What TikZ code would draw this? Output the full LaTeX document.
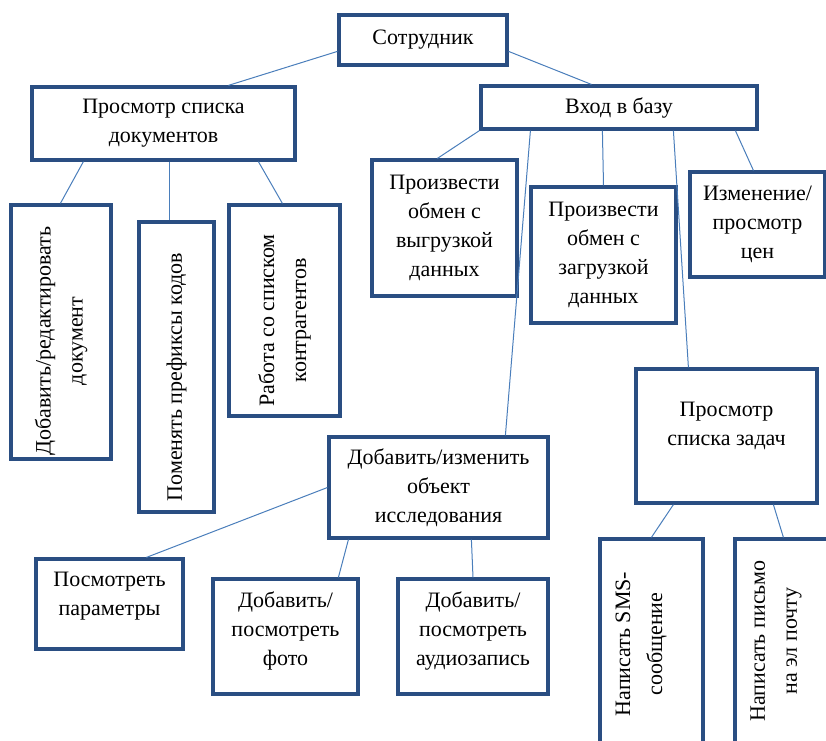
\documentclass[tikz,border=0pt]{standalone}
\usepackage{fontspec}
\setmainfont{Liberation Serif}
\definecolor{boxblue}{HTML}{2A4E82}
\definecolor{linkblue}{HTML}{4A7EBB}
\tikzset{
  x=1pt,y=-1pt,
  box/.style={draw=boxblue, line width=3.2pt, fill=white, inner sep=0pt},
  txt/.style={align=center, inner sep=0pt, font=\fontsize{22}{29}\selectfont},
  vtxt/.style={align=center, inner sep=0pt, rotate=90, font=\fontsize{22}{32}\selectfont},
  link/.style={draw=linkblue, line width=1pt}
}
\begin{document}
\begin{tikzpicture}
\useasboundingbox (0,0) rectangle (826,740);
\clip (0,0) rectangle (826,740);
% boxes
\node[box, minimum width=168pt, minimum height=50pt] (sotr) at (423,40) {};
\node[box, minimum width=263pt, minimum height=73pt] (pd) at (163.5,123.5) {};
\node[box, minimum width=276pt, minimum height=43pt] (vh) at (619,107.5) {};
\node[box, minimum width=100pt, minimum height=254pt] (d1) at (61,332) {};
\node[box, minimum width=75pt, minimum height=290pt] (d2) at (176.5,367) {};
\node[box, minimum width=111pt, minimum height=211pt] (d3) at (284.5,310.5) {};
\node[box, minimum width=145pt, minimum height=136pt] (vg) at (444.5,228) {};
\node[box, minimum width=145pt, minimum height=136pt] (zg) at (603.5,255) {};
\node[box, minimum width=135pt, minimum height=105pt] (iz) at (757.5,224.5) {};
\node[box, minimum width=181pt, minimum height=134pt] (pz) at (726.5,436) {};
\node[box, minimum width=219pt, minimum height=101pt] (obj) at (438.5,487.5) {};
\node[box, minimum width=147pt, minimum height=90pt] (pp) at (109.5,604) {};
\node[box, minimum width=145pt, minimum height=115pt] (ph) at (285.5,636.5) {};
\node[box, minimum width=150pt, minimum height=115pt] (au) at (473,636.5) {};
\node[box, minimum width=103pt, minimum height=221pt] (sms) at (651.5,649.5) {};
\node[box, minimum width=102pt, minimum height=221pt] (em) at (786,649.5) {};
% texts
\node[txt] (tsotr) at (sotr.center) {Сотрудник};
\node[txt] (tpd) at (pd.center) {Просмотр списка\\документов};
\node[txt] (tvh) at (vh.center) {Вход в базу};
\node[vtxt, xshift=-9pt] (td1) at (d1.center) {Добавить/редактировать\\документ};
\node[vtxt, xshift=-10pt] (td2) at (d2.center) {Поменять префиксы кодов};
\node[vtxt, xshift=-10pt] (td3) at (d3.center) {Работа со списком\\контрагентов};
\node[txt] (tvg) at (vg.center) {Произвести\\обмен с\\выгрузкой\\данных};
\node[txt] (tzg) at (zg.center) {Произвести\\обмен с\\загрузкой\\данных};
\node[txt] (tiz) at (iz.center) {Изменение/\\просмотр\\цен};
\node[txt, yshift=10pt] (tpz) at (pz.center) {Просмотр\\списка задач};
\node[txt] (tobj) at (obj.center) {Добавить/изменить\\объект\\исследования};
\node[txt, yshift=8pt] (tpp) at (pp.center) {Посмотреть\\параметры};
\node[txt, yshift=6pt] (tph) at (ph.center) {Добавить/\\посмотреть\\фото};
\node[txt, yshift=6pt] (tau) at (au.center) {Добавить/\\посмотреть\\аудиозапись};
\node[vtxt] (tsms) at (641,644) {Написать SMS-\\сообщение};
\node[vtxt] (tem) at (776,641) {Написать письмо\\на эл почту};
% connectors
\draw[link] ([yshift=-38pt]sotr.north west) -- ([xshift=198pt]pd.north west);
\draw[link] ([yshift=-38pt]sotr.north east) -- ([xshift=112pt]vh.north west);
\draw[link] ([xshift=53pt]pd.south west) -- ([xshift=51pt]d1.north west);
\draw[link] ([xshift=139pt]pd.south west) -- ([xshift=32pt]d2.north west);
\draw[link] ([xshift=228pt]pd.south west) -- ([xshift=55pt]d3.north west);
\draw[link] (vh.south west) -- ([xshift=67pt]vg.north west);
\draw[link] ([xshift=51pt]vh.south west) -- ([xshift=178pt]obj.north west);
\draw[link] ([xshift=123pt]vh.south west) -- (zg.north);
\draw[link] ([xshift=194pt]vh.south west) -- ([xshift=54pt]pz.north west);
\draw[link] ([xshift=256pt]vh.south west) -- ([xshift=65pt]iz.north west);
\draw[link] (obj.west) -- ([xshift=112pt]pp.north west);
\draw[link] ([xshift=21pt]obj.south west) -- ([xshift=127pt]ph.north west);
\draw[link] ([xshift=144pt]obj.south west) -- (au.north);
\draw[link] ([xshift=39pt]pz.south west) -- ([xshift=53pt]sms.north west);
\draw[link] ([xshift=139pt]pz.south west) -- ([xshift=50pt]em.north west);
\end{tikzpicture}
\end{document}
